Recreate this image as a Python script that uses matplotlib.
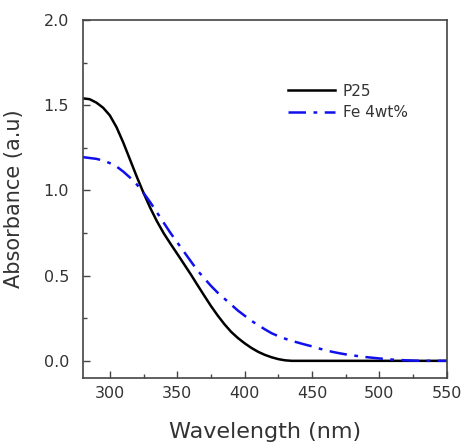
import numpy as np
import matplotlib.pyplot as plt
from matplotlib.ticker import MultipleLocator

# values
wavelength = [280, 285, 290, 295, 300, 305, 310, 315, 320, 325, 330, 335,
              340, 345, 350, 355, 360, 365, 370, 375, 380, 385, 390, 395,
              400, 405, 410, 415, 420, 425, 430, 435, 440, 445, 450, 455,
              460, 465, 470, 475, 480, 490, 500, 510, 520, 530, 540, 550]
p25 = [1.54, 1.535, 1.515, 1.485, 1.44, 1.37, 1.28, 1.18, 1.08, 0.985, 0.897, 0.818,
       0.748, 0.687, 0.628, 0.568, 0.508, 0.445, 0.383, 0.322, 0.266, 0.215, 0.17, 0.134,
       0.103, 0.076, 0.053, 0.035, 0.021, 0.01, 0.003, 0.0, 0.0, 0.0, 0.0, 0.0,
       0.0, 0.0, 0.0, 0.0, 0.0, 0.0, 0.0, 0.0, 0.0, 0.0, 0.0, 0.0]
fe4 = [1.195, 1.19, 1.185, 1.175, 1.16, 1.14, 1.11, 1.075, 1.035, 0.985, 0.93, 0.87,
       0.81, 0.75, 0.695, 0.64, 0.585, 0.53, 0.485, 0.44, 0.40, 0.365, 0.33, 0.295,
       0.265, 0.235, 0.21, 0.185, 0.162, 0.145, 0.13, 0.117, 0.106, 0.095, 0.085, 0.073,
       0.062, 0.053, 0.045, 0.038, 0.032, 0.022, 0.014, 0.007, 0.003, 0.0, 0.0, 0.0]

text_color = '#333333'
plt.rcParams['font.family'] = 'DejaVu Sans'

fig = plt.figure(figsize=(4.63, 4.43), dpi=100)
ax = fig.add_axes([0.179, 0.147, 0.786, 0.808])

ax.plot(wavelength, p25, color='black', lw=1.8, label='P25')
ax.plot(wavelength, fe4, color='#1010ee', lw=1.8, dashes=(7, 3, 1.5, 3),
        label='Fe 4wt%')

ax.set_xlim(280, 550)
ax.set_ylim(-0.1, 2.0)
ax.xaxis.set_major_locator(MultipleLocator(50))
ax.xaxis.set_minor_locator(MultipleLocator(25))
ax.yaxis.set_major_locator(MultipleLocator(0.5))
ax.yaxis.set_minor_locator(MultipleLocator(0.25))
ax.yaxis.set_major_formatter(plt.FormatStrFormatter('%.1f'))

ax.tick_params(which='both', direction='in', top=False, right=False,
               colors='#444444', labelcolor=text_color, labelsize=11.5, width=1)
ax.tick_params(which='major', length=5)
ax.tick_params(axis='y', which='major', pad=10)
ax.tick_params(axis='x', which='major', pad=6)
ax.tick_params(which='minor', length=3)
for s in ax.spines.values():
    s.set_color('#444444')
    s.set_linewidth(1.2)

ax.set_xlabel('Wavelength (nm)', fontsize=16, color=text_color, labelpad=15)
ax.set_ylabel('Absorbance (a.u)', fontsize=15, color=text_color, labelpad=14)

leg = ax.legend(loc='upper left', bbox_to_anchor=(0.525, 0.86), frameon=False,
                fontsize=11, handlelength=3.1, handletextpad=0.5,
                labelspacing=0.4)
for t in leg.get_texts():
    t.set_color(text_color)

fig.savefig('out.png', dpi=100)
